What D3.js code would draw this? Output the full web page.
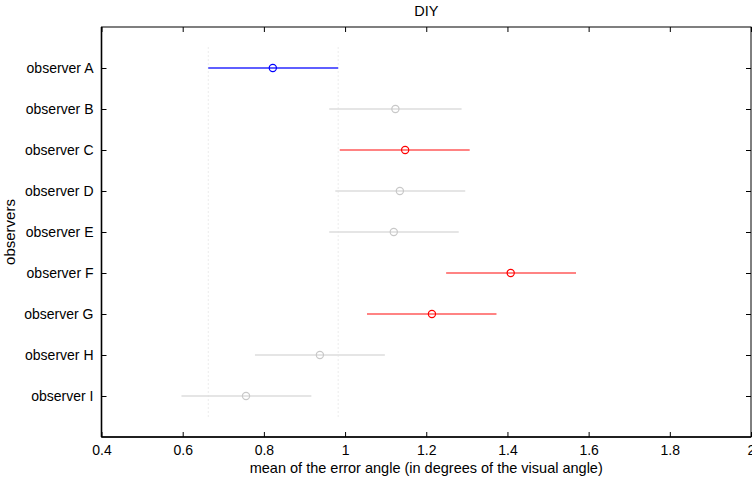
<!DOCTYPE html>
<html>
<head>
<meta charset="utf-8">
<script src="https://cdn.jsdelivr.net/npm/d3@7"></script>
<style>
  body { margin: 0; background: #fff; }
  text { font-family: "Liberation Sans", Arial, sans-serif; fill: #000; }
</style>
</head>
<body>
<div id="chart"></div>
<script>
// observers, top to bottom
var observers = ["observer A", "observer B", "observer C", "observer D", "observer E",
                 "observer F", "observer G", "observer H", "observer I"];
// mean error angle and its interval
var means = [0.822, 1.124, 1.148, 1.135, 1.120, 1.408, 1.214, 0.938, 0.756];
var lower = [0.663, 0.961, 0.987, 0.976, 0.961, 1.249, 1.054, 0.778, 0.597];
var upper = [0.983, 1.287, 1.307, 1.296, 1.280, 1.569, 1.373, 1.098, 0.917];
// group of each observer: reference, worse, same
var groups = ["ref", "same", "worse", "same", "same", "worse", "worse", "same", "same"];
var xTicks = [0.4, 0.6, 0.8, 1, 1.2, 1.4, 1.6, 1.8, 2];

var lineColor = { ref: "#2a2aff", worse: "#ff5a5a", same: "#dcdcdc" };
var dotColor = { ref: "#0000ff", worse: "#ff0000", same: "#c8c8c8" };

var svgWidth = 752, svgHeight = 480;
var margin = { top: 27, right: 1, bottom: 43, left: 101.5 };
var width = svgWidth - margin.left - margin.right;
var height = svgHeight - margin.top - margin.bottom;

var svg = d3.select("#chart").append("svg")
    .attr("width", svgWidth)
    .attr("height", svgHeight);

var g = svg.append("g")
    .attr("transform", `translate(${margin.left}, ${margin.top})`);

var x = d3.scaleLinear().domain([0.4, 2]).range([0, width]);
var y = d3.scaleLinear().domain([0, observers.length + 1]).range([0, height]);

// dotted guides at the reference observer's interval
g.selectAll("line.guide")
    .data([lower[0], upper[0]])
    .enter().append("line")
    .attr("class", "guide")
    .attr("x1", d => x(d)).attr("x2", d => x(d))
    .attr("y1", y(0.5)).attr("y2", y(observers.length + 0.5))
    .attr("stroke", "#d8d8d8")
    .attr("stroke-dasharray", "1,3");

var rows = observers.map(function(name, i) {
    return { name: name, mean: means[i], lo: lower[i], hi: upper[i], grp: groups[i], pos: i + 1 };
});

g.selectAll("line.ci")
    .data(rows)
    .enter().append("line")
    .attr("class", "ci")
    .attr("x1", d => x(d.lo)).attr("x2", d => x(d.hi))
    .attr("y1", d => y(d.pos)).attr("y2", d => y(d.pos))
    .attr("stroke", d => lineColor[d.grp])
    .attr("stroke-width", 1.4);

g.selectAll("circle")
    .data(rows)
    .enter().append("circle")
    .attr("cx", d => x(d.mean))
    .attr("cy", d => y(d.pos))
    .attr("r", 3.6)
    .attr("fill", "none")
    .attr("stroke", d => dotColor[d.grp])
    .attr("stroke-width", 1.2);

// axes, matlab style: ticks inside on all four sides
var xAxis = d3.axisBottom(x).tickValues(xTicks).tickSize(-5).tickPadding(8)
    .tickFormat(d => d3.format("")(+d.toFixed(1)));
var xAxisTop = d3.axisTop(x).tickValues(xTicks).tickSize(-5).tickFormat("");
var yPos = d3.range(1, observers.length + 1);
var yAxis = d3.axisLeft(y).tickValues(yPos).tickSize(-5).tickPadding(8)
    .tickFormat(d => observers[d - 1]);
var yAxisRight = d3.axisRight(y).tickValues(yPos).tickSize(-5).tickFormat("");

function styleAxis(sel) {
    sel.select(".domain").remove();
    sel.selectAll(".tick line").attr("stroke", "#000");
    sel.selectAll("text").attr("font-size", "14px")
        .attr("font-family", "Liberation Sans, Arial, sans-serif");
}

g.append("g").attr("transform", `translate(0, ${height})`).call(xAxis).call(styleAxis);
g.append("g").call(xAxisTop).call(styleAxis);
g.append("g").call(yAxis).call(styleAxis);
g.append("g").attr("transform", `translate(${width}, 0)`).call(yAxisRight).call(styleAxis);

// frame
g.append("rect")
    .attr("x", 0).attr("y", 0)
    .attr("width", width).attr("height", height)
    .attr("fill", "none")
    .attr("stroke", "#000")
    .attr("stroke-width", 1);
g.append("line")
    .attr("x1", 0).attr("x2", 0).attr("y1", 0).attr("y2", height)
    .attr("stroke", "#000").attr("stroke-width", 1.6);
g.append("line")
    .attr("x1", 0).attr("x2", width).attr("y1", height).attr("y2", height)
    .attr("stroke", "#000").attr("stroke-width", 1.6);

// labels
svg.append("text")
    .attr("x", margin.left + width / 2).attr("y", 16)
    .attr("text-anchor", "middle").attr("font-size", "14.5px")
    .text("DIY");

svg.append("text")
    .attr("x", margin.left + width / 2).attr("y", 473)
    .attr("text-anchor", "middle").attr("font-size", "14.5px")
    .text("mean of the error angle (in degrees of the visual angle)");

svg.append("text")
    .attr("transform", `translate(15, ${margin.top + height / 2}) rotate(-90)`)
    .attr("text-anchor", "middle").attr("font-size", "15px")
    .text("observers");
</script>
</body>
</html>
